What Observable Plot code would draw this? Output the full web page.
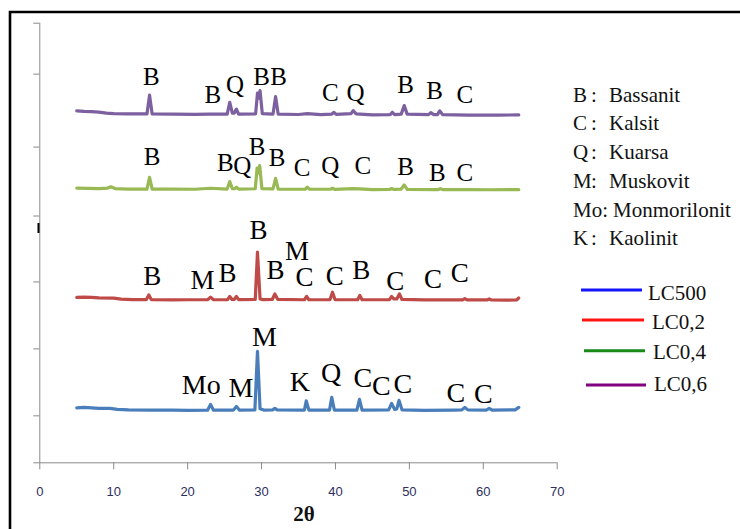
<!DOCTYPE html>
<html>
<head>
<meta charset="utf-8">
<script src="https://cdn.jsdelivr.net/npm/d3@7"></script>
<script src="https://cdn.jsdelivr.net/npm/@observablehq/plot@0.6"></script>
<style>
  html, body { margin: 0; padding: 0; background: #fff; }
  svg text.serif { font-family: 'Liberation Serif', 'Times New Roman', serif !important; }
</style>
</head>
<body>
<div id="chart"></div>
<script>
// ---------- DATA ----------
const xTicks = [0, 10, 20, 30, 40, 50, 60, 70];
const yTicks = [0, 47, 114, 181, 247, 316, 389, 440];
const xLabel = "2θ";

const seriesNames = ["LC500", "LC0,2", "LC0,4", "LC0,6"];
const seriesColors = ["#4a7ebb", "#be4b48", "#98b954", "#7d60a0"];
const legendColors = ["#1414ff", "#ff1414", "#178a17", "#800080"];

// [2θ, stacked intensity]
const lc500 = [[5.0,55],[6,55.5],[7,55],[8,54.5],[9.5,54.5],[10.5,53.5],[12,53],[15,52.8],[18,52.8],[20,52.5],[22.7,52.7],[23.1,58.5],[23.5,52.7],[26.2,52.8],[26.6,56.3],[27.0,52.8],[29.1,53],[29.45,111.5],[29.8,54],[30.3,52.8],[31.5,53],[31.8,54.5],[32.1,53],[35.8,52.8],[36.05,62],[36.4,52.8],[39.2,52.8],[39.5,65.5],[39.85,52.8],[42.9,52.8],[43.25,63.5],[43.6,52.8],[47.2,53],[47.6,59.5],[48.0,53.5],[48.3,54],[48.6,62.5],[49.0,53],[52,52.5],[56,52.8],[57.1,53],[57.5,55.5],[57.9,53],[60.4,52.8],[60.8,54.5],[61.2,52.8],[64.3,53],[64.8,55.5]];
const lc02 = [[5.0,165.5],[6,165.8],[7,165.5],[8,165],[10,164.8],[11,163.8],[12.5,163.3],[14.4,163.3],[14.75,168],[15.1,163.3],[18,163],[20,163.2],[22.7,163.2],[23.1,165.8],[23.5,163.2],[25.4,163.3],[25.7,166.5],[26.0,163.5],[26.3,163.5],[26.6,166.5],[26.9,163.3],[29.15,163.5],[29.45,210.8],[29.8,164],[30.2,163.3],[31.45,163.5],[31.8,169],[32.2,163.5],[35.8,163.2],[36.1,166.5],[36.4,163.2],[39.25,163.3],[39.6,170.8],[39.95,163.3],[43.0,163.2],[43.3,167.5],[43.6,163.2],[47.3,163.3],[47.6,166.5],[47.9,164],[48.3,164],[48.65,169],[49.0,163.5],[52,163],[57.2,163],[57.5,164.3],[57.8,163],[60.5,163],[60.8,164],[61.1,163],[63,162.8],[64.5,163],[64.8,165]];
const lc04 = [[5.0,275],[6.5,274.7],[8,274.5],[9.2,275],[9.6,276.3],[10.2,274.5],[12,274],[14.5,274],[14.85,285.8],[15.2,274],[18,274],[21,273.8],[23.1,274.8],[25.35,274],[25.7,281.5],[26.05,274.3],[26.35,274.3],[26.6,275.8],[26.9,274],[29.15,274.3],[29.4,295],[29.55,290],[29.75,297.5],[30.05,274.5],[31.55,274.2],[31.9,284.8],[32.25,274],[35.9,273.8],[36.2,275.8],[36.5,273.8],[39.3,273.8],[39.6,274.8],[39.9,273.6],[42.4,274.4],[43.3,274.2],[45,273.5],[47.3,273.6],[47.6,274.5],[47.9,273.6],[48.9,274],[49.3,278.1],[49.7,273.6],[53.9,273.5],[54.2,274.4],[54.5,273.5],[57.6,273.4],[61,273.3],[64.8,273.4]];
const lc06 = [[5.0,352.3],[6,351.8],[7,351.5],[8,351],[9,350],[10,349.5],[12,349.2],[14.5,349.2],[14.85,368],[15.2,349.2],[18,349],[21,348.8],[23,349],[25.35,349],[25.7,360.8],[26.05,350],[26.3,350],[26.6,354],[26.9,349],[29.2,349.3],[29.45,370],[29.6,365],[29.8,372.5],[30.1,349.5],[31.55,349],[31.9,366.5],[32.25,349],[35,348.6],[36.2,349.5],[38,348.5],[39.5,349],[39.8,350.8],[40.1,348.8],[42.1,349.5],[42.4,352.5],[42.8,349.3],[45,348.3],[47.4,348.5],[47.7,350.8],[48,348.5],[48.9,349],[49.3,357.5],[49.7,349],[52.6,348.5],[52.9,350.5],[53.3,348.5],[53.8,348.5],[54.1,352.3],[54.5,348.5],[58,348],[62,348],[64.8,348.2]];

// peak labels: [text, 2θ, baseline level]
const lc500Labels = [["Mo",21.85,69],["M",27.2,65.6],["M",30.4,117.3],["K",35.2,72.3],["Q",39.4,80.6],["C",43.7,75.6],["C",46.2,68.3],["C",49.1,69.6],["C",56.3,60.6],["C",60.0,59.6]];
const lc02Labels = [["B",15.2,178],["M",22.0,174],["B",25.4,180.6],["B",29.6,224.5],["B",31.9,184],["M",34.8,203],["C",35.8,177.3],["C",39.9,178.3],["B",43.5,184],["C",48.1,173.3],["C",53.2,174.6],["C",56.8,180.6]];
const lc04Labels = [["B",15.2,298],["B",25.1,292.3],["Q",27.4,289],["B",29.4,308],["B",32.1,296.6],["C",35.5,287.3],["Q",39.3,289],["C",43.7,289],["B",49.5,288],["B",53.8,282.3],["C",57.5,282.3]];
const lc06Labels = [["B",15.1,378],["B",23.4,360.6],["Q",26.4,370.6],["B",30.0,378],["B",32.3,378],["C",39.3,362.3],["Q",42.7,362.3],["B",49.5,370],["B",53.4,364.6],["C",57.5,360.6]];

const phaseCodes = ["B", "C", "Q", "M", "Mo", "K"];
const phaseNames = ["Bassanit", "Kalsit", "Kuarsa", "Muskovit", "Monmorilonit", "Kaolinit"];

// ---------- BUILD ----------
const seriesData = [lc500, lc02, lc04, lc06];
const rows = [];
seriesData.forEach((arr, i) => arr.forEach(([t, v]) => rows.push({series: seriesNames[i], theta: t, value: v})));
const labelSets = [lc500Labels, lc02Labels, lc04Labels, lc06Labels];
const labelSizes = [28, 27, 25, 25];
const labelRows = [];
labelSets.forEach((arr, i) => arr.forEach(([s, t, v]) => labelRows.push({text: s, theta: t, value: v, size: labelSizes[i]})));

const W = 740, H = 529;
const chart = Plot.plot({
  width: W, height: H,
  marginLeft: 39.3, marginRight: 183.3, marginTop: 22.7, marginBottom: 66.7,
  style: {background: "#fff", fontFamily: "'Liberation Sans', Arial, sans-serif", overflow: "visible"},
  x: {domain: [0, 70]},
  y: {domain: [0, 440]},
  color: {domain: seriesNames, range: seriesColors},
  marks: [
    Plot.ruleX([0], {stroke: "#8a8a8a", strokeWidth: 1}),
    Plot.ruleY([0], {stroke: "#8a8a8a", strokeWidth: 1}),
    Plot.axisY({ticks: yTicks, tickSize: 6, tickFormat: () => "", stroke: "#8a8a8a", label: null}),
    Plot.axisX({ticks: xTicks, tickSize: 7, tickPadding: 17, fontSize: 13, stroke: "#8a8a8a", fill: "#2e2e60", tickFormat: d => String(d), label: null}),
    Plot.line(rows, {x: "theta", y: "value", z: "series", stroke: "series", strokeWidth: 3.2, strokeLinejoin: "round", strokeLinecap: "round"}),
    ...[28, 27, 25].map(sz => Plot.text(labelRows.filter(d => d.size === sz), {x: "theta", y: "value", text: "text", lineAnchor: "bottom", fontSize: sz, fontFamily: "'Liberation Serif', 'Times New Roman', serif", fill: "#000"}))
  ]
});
document.getElementById("chart").appendChild(chart);

// ---------- DECORATION ----------
const svg = d3.select(chart);
// outer frame
svg.append("path").attr("d", `M10,${H} V12 H${W}`).attr("fill", "none").attr("stroke", "#000").attr("stroke-width", 2.6);
// small mark on y axis
svg.append("line").attr("x1", 38.5).attr("x2", 38.5).attr("y1", 223).attr("y2", 233).attr("stroke", "#000").attr("stroke-width", 2);

function addText(x, y, s, size, anchor, weight) {
  return svg.append("text").attr("class", "serif").attr("x", x).attr("y", y)
    .style("text-anchor", anchor || "start").style("font-size", size + "px")
    .style("font-weight", weight || "normal").style("fill", "#111").text(s);
}
// x label
addText(304, 521, xLabel, 21, "middle", "bold");

// phase legend
phaseCodes.forEach((c, i) => {
  const y = 101.7 + i * 28.7;
  if (c.length > 1) {
    addText(573, y, c + ":", 21);
    addText(613, y, phaseNames[i], 21);
  } else {
    addText(573, y, c, 21);
    addText(591, y, ":", 21);
    addText(609, y, phaseNames[i], 21);
  }
});

// series legend
const lineY = [290, 320, 350.7, 385];
const lineX = [[581, 642], [582, 644], [584, 645], [586, 646]];
const textX = [648, 652, 653, 654];
const textY = [300, 328.5, 358.5, 390.5];
seriesNames.forEach((n, i) => {
  svg.append("line").attr("x1", lineX[i][0]).attr("x2", lineX[i][1]).attr("y1", lineY[i]).attr("y2", lineY[i])
    .attr("stroke", legendColors[i]).attr("stroke-width", 3);
  addText(textX[i], textY[i], n, 21);
});
</script>
</body>
</html>
